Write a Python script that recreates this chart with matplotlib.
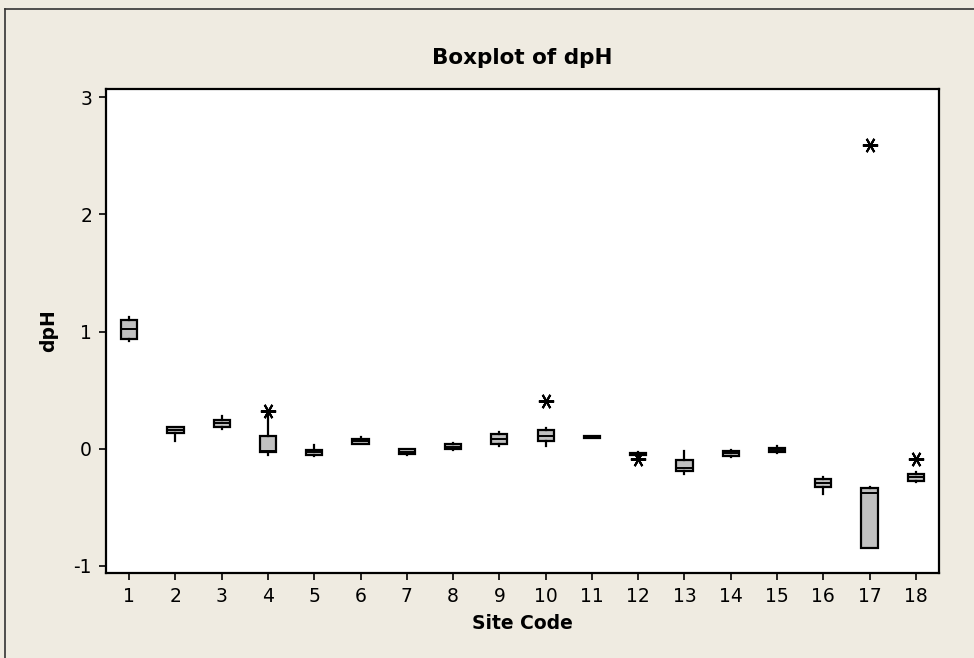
import numpy as np
import matplotlib
matplotlib.use('Agg')
import matplotlib.pyplot as plt
from matplotlib.lines import Line2D

plt.rcParams['axes.unicode_minus'] = False

# box statistics (dpH per site)
sites = list(range(1, 19))
q1 = [0.94, 0.134, 0.188, -0.028, -0.054, 0.043, -0.046, -0.003, 0.043,
      0.068, 0.093, -0.055, -0.188, -0.060, -0.028, -0.322, -0.844, -0.276]
med = [1.026, 0.162, 0.216, -0.022, -0.030, 0.064, -0.026, 0.017, 0.085,
       0.105, 0.100, -0.045, -0.165, -0.040, -0.009, -0.288, -0.379, -0.242]
q3 = [1.103, 0.182, 0.242, 0.108, -0.009, 0.080, -0.006, 0.037, 0.128,
      0.156, 0.107, -0.035, -0.097, -0.023, 0.009, -0.254, -0.331, -0.211]
whislo = [0.923, 0.066, 0.168, -0.050, -0.060, 0.040, -0.054, -0.011, 0.020,
          0.020, 0.088, -0.060, -0.216, -0.071, -0.040, -0.390, -0.850, -0.285]
whishi = [1.128, 0.190, 0.279, 0.290, 0.028, 0.100, 0.000, 0.048, 0.139,
          0.177, 0.112, -0.030, -0.015, -0.011, 0.023, -0.245, -0.322, -0.202]
outliers = {4: [0.32], 10: [0.41], 12: [-0.09], 17: [2.59], 18: [-0.088]}

bg = '#EFEBE1'
fig = plt.figure(figsize=(9.74, 6.58), dpi=100, facecolor=bg)
ax = fig.add_axes([106 / 974, 1 - 573 / 658, (939 - 106) / 974, (573 - 89) / 658])

stats = []
for i, s in enumerate(sites):
    stats.append(dict(med=med[i], q1=q1[i], q3=q3[i], whislo=whislo[i],
                      whishi=whishi[i], fliers=outliers.get(s, []), label=str(s)))

ax.bxp(stats, positions=sites, widths=0.35, patch_artist=True,
       showcaps=False,
       boxprops=dict(facecolor='#C0C0C0', edgecolor='black', linewidth=1.6),
       medianprops=dict(color='black', linewidth=1.4),
       whiskerprops=dict(color='black', linewidth=1.6),
       flierprops=dict(marker=(6, 2, 90), markersize=11, markeredgecolor='black',
                       markeredgewidth=1.5, linestyle='none'))

ax.set_xlim(0.5, 18.5)
ax.set_ylim(-1.06, 3.07)
ax.set_yticks([-1, 0, 1, 2, 3])
ax.set_xticks(sites)
ax.set_xticklabels([str(s) for s in sites])
ax.tick_params(direction='out', length=5, width=1.2, labelsize=13.5)
ax.tick_params(axis='x', pad=5)
ax.tick_params(axis='y', pad=5)
for sp in ax.spines.values():
    sp.set_linewidth(1.6)

ax.set_title('Boxplot of dpH', fontsize=15.5, fontweight='bold', pad=18)
ax.set_xlabel('Site Code', fontsize=13.5, fontweight='bold', labelpad=6)
ax.set_ylabel('dpH', fontsize=13.5, fontweight='bold', labelpad=11)

# outer frame (left and top edges visible)
fig.add_artist(Line2D([5 / 974, 5 / 974], [0, 1 - 9 / 658], transform=fig.transFigure,
                      color='#333333', linewidth=1.2))
fig.add_artist(Line2D([5 / 974, 1], [1 - 9 / 658, 1 - 9 / 658], transform=fig.transFigure,
                      color='#333333', linewidth=1.2))

fig.savefig('out.png', dpi=100, facecolor=bg)
